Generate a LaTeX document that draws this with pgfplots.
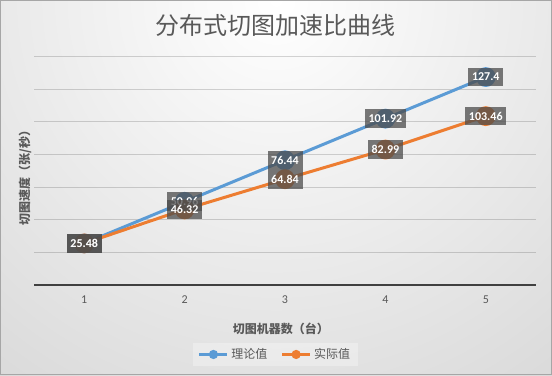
\documentclass[border=0pt]{standalone}
\usepackage{fontspec}
\setmainfont{Carlito}
\newfontfamily\cjk{Noto Sans CJK SC}
\usepackage{pgfplots}
\pgfplotsset{compat=1.18}
\definecolor{sblue}{HTML}{5B9BD5}
\definecolor{sorange}{HTML}{ED7D31}
\definecolor{txt}{HTML}{595959}
\definecolor{axl}{HTML}{404040}
\definecolor{bgout}{HTML}{C4C4C4}
\definecolor{brd}{HTML}{A6A6A6}
\begin{document}
\begin{tikzpicture}
\begin{scope}
\clip (0,0) rectangle (414pt,281.25pt);
\shade[inner color=white, outer color=bgout] (207pt,281.25pt) circle (560pt);
\end{scope}
\draw[brd, line width=0.75pt] (0.375pt,0.375pt) rectangle (413.625pt,280.875pt);
\node[font=\cjk\fontsize{18}{20}\selectfont, text=txt] at (206.25pt,262.5pt) {分布式切图加速比曲线};
\begin{axis}[
  at={(25.5pt,67.5pt)}, anchor=south west,
  scale only axis, width=376.5pt, height=171.375pt,
  xmin=0.5, xmax=5.5, ymin=0, ymax=140,
  xtick={1,2,3,4,5}, ytick={20,40,...,140}, yticklabels={},
  extra y ticks={0}, extra y tick labels={},
  extra y tick style={grid style={draw=axl, draw opacity=1, line width=1.25pt}},
  ymajorgrids, grid style={draw=black, draw opacity=0.16, line width=0.75pt},
  axis line style={draw=none},
  major tick length=0pt,
  tick style={draw=none},
  xticklabel style={font=\fontsize{9}{11}\selectfont, text=txt, anchor=center, yshift=-11.25pt},
  /pgf/number format/assume math mode=true,
  xlabel={切图机器数（台）},
  ylabel={切图速度（张/秒）},
  xlabel style={at={(axis description cs:0.492,-0.1926)}, anchor=center, font=\cjk\bfseries\fontsize{9}{11}\selectfont, text=txt},
  ylabel style={at={(axis description cs:-0.018,0.481)}, anchor=center, font=\cjk\bfseries\fontsize{9}{11}\selectfont, text=txt},
  legend columns=2,
  legend style={at={(axis description cs:0.481,-0.304)}, anchor=center, draw=none, fill=white, fill opacity=0.3, text opacity=1, font=\cjk\fontsize{9}{11}\selectfont, text=txt, /tikz/every even column/.append style={column sep=8pt}, inner xsep=4pt, inner ysep=2pt},
  legend image code/.code={\draw[#1, line width=2pt, mark size=2.4pt, mark repeat=2, mark phase=2] plot coordinates {(0pt,0pt)(10.5pt,0pt)(21pt,0pt)};},
  every node near coord/.append style={anchor=center, fill=black!70, fill opacity=0.75, text opacity=1, text=white, font=\bfseries\fontsize{9}{11}\selectfont, inner xsep=2.8pt, inner ysep=0pt, minimum height=14pt},
]
\addplot[sblue, line width=2.25pt, mark=*, mark size=6.3pt, mark options={solid, fill=sblue, draw=sblue}] coordinates {(1,25.48)(2,50.96)(3,76.44)(4,101.92)(5,127.4)};
\addlegendentry{理论值}
\addplot[sorange, line width=2.25pt, mark=*, mark size=6.3pt, mark options={solid, fill=sorange, draw=sorange}] coordinates {(1,25.48)(2,46.32)(3,64.84)(4,82.99)(5,103.46)};
\addlegendentry{实际值}
\addplot[draw=none, mark=none, forget plot, point meta=explicit symbolic, nodes near coords] coordinates {(1,25.48)[25.48] (2,50.96)[50.96] (3,76.44)[76.44] (4,101.92)[101.92] (5,127.4)[127.4]};
\addplot[draw=none, mark=none, forget plot, point meta=explicit symbolic, nodes near coords] coordinates {(1,25.48)[25.48] (2,46.32)[46.32] (3,64.84)[64.84] (4,82.99)[82.99] (5,103.46)[103.46]};
\end{axis}
\pgfresetboundingbox
\useasboundingbox (0,0) rectangle (414pt,281.25pt);
\end{tikzpicture}
\end{document}
